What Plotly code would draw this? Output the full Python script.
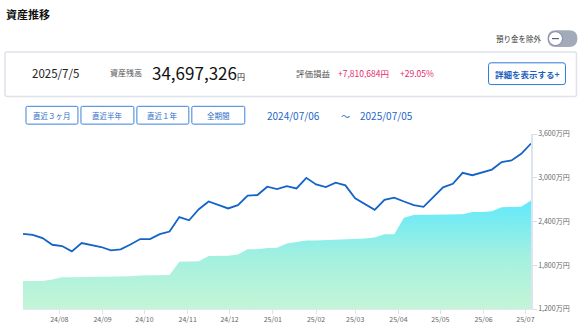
import pandas as pd
import plotly.graph_objects as go

# Weekly snapshots, values in 万円
dates = pd.date_range("2024-07-06", "2025-07-05", freq="7D")
asset_total = [2230, 2217, 2172, 2081, 2064, 1991, 2104, 2072, 2050, 2004,
               2018, 2085, 2159, 2159, 2226, 2262, 2461, 2416, 2569, 2674,
               2628, 2579, 2624, 2755, 2763, 2877, 2845, 2885, 2854, 2999,
               2908, 2872, 2932, 2895, 2719, 2637, 2560, 2696, 2728, 2674,
               2624, 2601, 2736, 2868, 2918, 3067, 3035, 3071, 3112, 3216,
               3238, 3329, 3469.7]
principal = [1584, 1584, 1584, 1605, 1634, 1634, 1635, 1636, 1637, 1642,
             1645, 1650, 1660, 1664, 1667, 1668, 1847, 1850, 1855, 1928,
             1930, 1932, 1946, 2018, 2020, 2037, 2040, 2100, 2118, 2140,
             2140, 2145, 2150, 2153, 2159, 2167, 2180, 2226, 2226, 2452,
             2488, 2488, 2490, 2494, 2495, 2498, 2529, 2530, 2542, 2597,
             2600, 2602, 2688.7]
y_ticks = [1200, 1800, 2400, 3000, 3600]
y_tick_text = ["1,200万円", "1,800万円", "2,400万円", "3,000万円", "3,600万円"]

range_buttons = ["直近３ヶ月", "直近半年", "直近１年", "全期間"]

FONT = "Noto Sans CJK JP"
W, H = 586, 336
L, R, T, B = 23, 54.5, 134, 25
PW, PH = W - L - R, H - T - B


def X(px):
    return (px - L) / PW


def Y(py):
    return (H - B - py) / PH


def rrect(x0, y0, x1, y1, r):
    # rounded rectangle path in paper coordinates from pixel corners
    rx, ry = r / PW, r / PH
    a, b, c, d = X(x0), Y(y0), X(x1), Y(y1)
    return (f"M{a+rx},{b} L{c-rx},{b} Q{c},{b} {c},{b-ry} L{c},{d+ry} "
            f"Q{c},{d} {c-rx},{d} L{a+rx},{d} Q{a},{d} {a},{d+ry} "
            f"L{a},{b-ry} Q{a},{b} {a+rx},{b} Z")


fig = go.Figure()

fig.add_trace(go.Scatter(
    x=dates, y=principal, mode="lines", line=dict(width=0, color="#7eeef8"),
    fill="tozeroy",
    fillgradient=dict(type="vertical", start=1200, stop=2700,
                      colorscale=[[0, "#c6f5d6"], [0.5, "#a2f0e0"], [1, "#60e9fb"]]),
    hoverinfo="skip", showlegend=False))

fig.add_trace(go.Scatter(
    x=dates, y=asset_total, mode="lines",
    line=dict(color="#1464c8", width=1.8),
    showlegend=False))

shapes = []
ann = []


def text(px, py, s, size, color="#333333", anchor="left", bold=False):
    ann.append(dict(x=X(px), y=Y(py), xref="paper", yref="paper", text=f"<b>{s}</b>" if bold else s,
                    showarrow=False, xanchor=anchor, yanchor="middle",
                    font=dict(family=FONT, size=size, color=color)))


# header
text(4, 13, "資産推移", 11, "#111111", bold=True)
text(545, 37, "預り金を除外", 7.5, "#333333", anchor="right")
shapes.append(dict(type="path", path=rrect(548, 29, 578, 46, 8.5), xref="paper", yref="paper",
                   fillcolor="#a3abbb", line=dict(width=0)))
shapes.append(dict(type="circle", xref="paper", yref="paper",
                   x0=X(549), x1=X(563), y0=Y(30.5), y1=Y(44.5),
                   fillcolor="#ffffff", line=dict(color="#7c88a4", width=1)))
shapes.append(dict(type="line", xref="paper", yref="paper", x0=X(552.5), x1=X(559.5),
                   y0=Y(37.5), y1=Y(37.5), line=dict(color="#55607a", width=1.2)))

# summary box
shapes.append(dict(type="path", path=rrect(5, 51, 577, 96, 2), xref="paper", yref="paper",
                   fillcolor="#ffffff", line=dict(color="#dfe2ea", width=1.5)))
text(30, 72, "2025/7/5", 11.5, "#222222")
text(108, 72, "資産残高", 8, "#555555")
text(150, 72, "34,697,326<span style='font-size:8px'>円</span>", 17, "#111111")
text(294, 72, "評価損益", 8.5, "#555555")
text(336, 72, "+7,810,684円", 8.5, "#e3286e")
text(398, 72, "+29.05%", 8.5, "#e3286e")
shapes.append(dict(type="path", path=rrect(489, 62, 566, 84, 2.5), xref="paper", yref="paper",
                   fillcolor="#ffffff", line=dict(color="#2f7ad6", width=1)))
text(527.5, 73, "<b>詳細を表示する+</b>", 8.5, "#1f5fbf", anchor="center")

# period buttons
btn_x = [(26, 78), (81, 134), (137, 189), (192, 245)]
for label, (x0, x1) in zip(range_buttons, btn_x):
    shapes.append(dict(type="path", path=rrect(x0, 106, x1, 124, 1.5), xref="paper", yref="paper",
                       fillcolor="#ffffff", line=dict(color="#3b82d8", width=1)))
    text((x0 + x1) / 2, 115, label, 7.5, "#2a6bc6", anchor="center")

text(265, 115, "2024/07/06", 10, "#1d67c9")
text(339, 116, "～", 9, "#1d67c9")
text(358, 115, "2025/07/05", 10, "#1d67c9")

fig.update_layout(
    width=W, height=H,
    margin=dict(l=L, r=R, t=T, b=B),
    paper_bgcolor="#ffffff", plot_bgcolor="#ffffff",
    font=dict(family=FONT, size=7, color="#666666"),
    shapes=shapes, annotations=ann,
    xaxis=dict(type="date", range=["2024-07-06", "2025-07-05"],
               showgrid=False, zeroline=False,
               tick0="2024-08-01", dtick="M1", tickformat="%y/%m",
               ticks="outside", ticklen=4, tickcolor="#dde2ef",
               showline=True, linecolor="#e3e7f2", linewidth=1,
               tickfont=dict(size=7, color="#666666")),
    yaxis=dict(range=[1200, 3600], side="right", showgrid=False, zeroline=False,
               tickvals=y_ticks, ticktext=y_tick_text,
               ticks="outside", ticklen=4, tickcolor="#d5dcee",
               showline=True, linecolor="#dde3f0", linewidth=1.5,
               tickfont=dict(size=7, color="#666666")),
)

fig.write_html("out.html")
